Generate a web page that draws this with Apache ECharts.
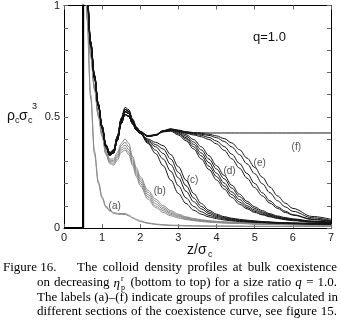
<!DOCTYPE html>
<html><head><meta charset="utf-8">
<script src="https://cdn.jsdelivr.net/npm/echarts@6/dist/echarts.min.js"></script>
<style>html,body{margin:0;padding:0;background:#fff}#c{width:341px;height:321px}</style>
</head><body><div id="c"></div>
<script>
// ---------------- data ----------------
const zGrid = [0.5,0.55,0.6,0.7,0.8,0.9,1.0,1.1,1.2,1.3,1.4,1.5,1.6,1.7,1.8,1.9,2.0,
               2.2,2.4,2.6,2.8,3.0,3.2,3.4,3.6,3.8,4.0,4.2,4.4,4.6,4.8,5.0,5.2,5.4,5.6,5.8,6.0,6.5,7.0];

// near-wall parts (z = 0.5 .. 2.0) of the black profiles
const headF = [2.2,1.4,1.08,0.84,0.69,0.56,0.46,0.375,0.34,0.352,0.415,0.495,0.542,0.532,0.49,0.455,0.435];
const headE = [2.2,1.38,1.07,0.835,0.685,0.557,0.457,0.372,0.336,0.348,0.41,0.488,0.533,0.524,0.484,0.45,0.432];
const headD = [2.2,1.37,1.06,0.83,0.68,0.553,0.453,0.368,0.332,0.343,0.403,0.48,0.523,0.515,0.477,0.446,0.43];
const headC = [2.2,1.35,1.05,0.82,0.675,0.548,0.448,0.363,0.327,0.337,0.395,0.47,0.51,0.502,0.468,0.44,0.425];

// far parts (z = 2.2 .. 7.0)
const tailF  = [0.415,0.42,0.438,0.446,0.44,0.433,0.429,0.428,0.427,0.427,0.427,0.427,0.427,0.427,0.427,0.427,0.427,0.427,0.427,0.427,0.427,0.427];
const tailE4 = [0.413,0.418,0.436,0.444,0.438,0.431,0.427,0.425,0.421,0.414,0.402,0.382,0.352,0.314,0.272,0.228,0.184,0.144,0.112,0.088,0.052,0.039];
const tailE3 = [0.413,0.418,0.436,0.444,0.437,0.43,0.425,0.421,0.416,0.406,0.389,0.364,0.33,0.288,0.244,0.199,0.158,0.122,0.095,0.075,0.046,0.034];
const tailE2 = [0.412,0.417,0.435,0.443,0.436,0.428,0.422,0.416,0.407,0.391,0.366,0.332,0.29,0.245,0.2,0.158,0.122,0.095,0.075,0.06,0.04,0.031];
const tailE1 = [0.412,0.417,0.435,0.442,0.435,0.426,0.418,0.41,0.398,0.378,0.349,0.311,0.269,0.224,0.181,0.144,0.112,0.088,0.07,0.058,0.038,0.029];
const tailD5 = [0.413,0.418,0.436,0.443,0.434,0.42,0.397,0.365,0.325,0.28,0.236,0.192,0.152,0.12,0.095,0.078,0.064,0.054,0.047,0.041,0.031,0.027];
const tailD4 = [0.413,0.418,0.435,0.441,0.431,0.413,0.386,0.351,0.31,0.265,0.221,0.179,0.141,0.111,0.088,0.072,0.06,0.051,0.044,0.039,0.03,0.025];
const tailD3 = [0.412,0.417,0.434,0.44,0.427,0.406,0.376,0.337,0.294,0.246,0.202,0.162,0.128,0.1,0.081,0.067,0.057,0.048,0.042,0.037,0.029,0.024];
const tailD2 = [0.412,0.417,0.433,0.438,0.423,0.4,0.365,0.324,0.278,0.231,0.188,0.15,0.117,0.092,0.075,0.062,0.053,0.045,0.039,0.035,0.027,0.023];
const tailD1 = [0.411,0.416,0.432,0.435,0.418,0.392,0.355,0.31,0.263,0.216,0.175,0.137,0.107,0.086,0.07,0.059,0.05,0.043,0.037,0.033,0.026,0.021];
const tailC5 = [0.40,0.385,0.37,0.33,0.275,0.215,0.155,0.11,0.08,0.062,0.051,0.044,0.039,0.035,0.032,0.029,0.027,0.025,0.024,0.023,0.021,0.02];
const tailC4 = [0.395,0.375,0.355,0.31,0.25,0.19,0.135,0.097,0.072,0.057,0.047,0.041,0.036,0.033,0.03,0.028,0.026,0.024,0.023,0.022,0.02,0.019];
const tailC3 = [0.39,0.365,0.335,0.285,0.225,0.165,0.118,0.086,0.065,0.052,0.044,0.038,0.034,0.031,0.028,0.026,0.025,0.023,0.022,0.021,0.019,0.018];
const tailC2 = [0.385,0.35,0.31,0.255,0.19,0.135,0.097,0.073,0.057,0.047,0.04,0.035,0.031,0.029,0.027,0.025,0.024,0.022,0.021,0.02,0.018,0.017];
const tailC1 = [0.38,0.335,0.28,0.215,0.155,0.11,0.08,0.062,0.05,0.042,0.036,0.032,0.029,0.027,0.025,0.024,0.022,0.021,0.02,0.019,0.017,0.016];

// grey profiles (b), full range
const profB5 = [2.0,1.3,1.0,0.79,0.64,0.52,0.43,0.35,0.31,0.31,0.34,0.38,0.40,0.38,0.32,0.27,0.23,0.17,0.13,0.10,0.078,0.062,0.05,0.043,0.037,0.033,0.03,0.028,0.026,0.024,0.023,0.021,0.02,0.019,0.018,0.017,0.017,0.016,0.015];
const profB4 = [2.0,1.3,1.0,0.785,0.635,0.515,0.425,0.345,0.305,0.302,0.33,0.37,0.385,0.365,0.31,0.26,0.22,0.16,0.12,0.092,0.072,0.058,0.047,0.04,0.035,0.031,0.028,0.026,0.024,0.023,0.022,0.02,0.019,0.018,0.017,0.017,0.016,0.015,0.014];
const profB3 = [2.0,1.3,1.0,0.78,0.63,0.51,0.42,0.34,0.30,0.296,0.322,0.36,0.372,0.352,0.30,0.25,0.21,0.15,0.11,0.085,0.066,0.054,0.044,0.038,0.033,0.03,0.027,0.025,0.023,0.022,0.021,0.019,0.018,0.017,0.017,0.016,0.015,0.014,0.013];
const profB2 = [2.0,1.3,1.0,0.775,0.625,0.505,0.415,0.335,0.295,0.288,0.314,0.35,0.36,0.34,0.29,0.24,0.20,0.14,0.10,0.078,0.061,0.05,0.041,0.036,0.031,0.028,0.026,0.024,0.022,0.021,0.02,0.018,0.017,0.017,0.016,0.015,0.015,0.014,0.013];
const profB1 = [2.0,1.3,1.0,0.77,0.62,0.50,0.41,0.33,0.29,0.282,0.305,0.34,0.35,0.33,0.28,0.23,0.19,0.13,0.092,0.07,0.055,0.045,0.038,0.033,0.029,0.026,0.024,0.022,0.021,0.02,0.019,0.017,0.016,0.016,0.015,0.015,0.014,0.013,0.012];

// grey profiles (a)
const profA2 = [2.0,1.25,0.97,0.6,0.345,0.21,0.14,0.098,0.08,0.07,0.066,0.065,0.065,0.058,0.047,0.039,0.032,0.023,0.018,0.015,0.013,0.012,0.011,0.01,0.01,0.009,0.009,0.009,0.009,0.009,0.008,0.008,0.008,0.008,0.008,0.008,0.008,0.008,0.008];
const profA1 = [2.0,1.22,0.94,0.58,0.33,0.2,0.133,0.093,0.076,0.066,0.062,0.061,0.061,0.054,0.044,0.036,0.029,0.021,0.016,0.013,0.011,0.01,0.009,0.009,0.008,0.008,0.008,0.008,0.007,0.007,0.007,0.007,0.007,0.007,0.007,0.007,0.007,0.007,0.007];

// hard wall
const wallZ = [0, 0.5, 0.5];
const wallRho = [0, 0, 1.2];

// group labels
const groupNames = ['(a)','(b)','(c)','(d)','(e)','(f)'];
const groupZ     = [1.33, 2.51, 3.37, 4.34, 5.13, 6.09];
const groupRho   = [0.097, 0.166, 0.213, 0.254, 0.293, 0.362];

const yTickLabels = {'0':'0','0.5':'0.5','1':'1'};

// ---------------- chart ----------------
const GREY = '#8a8a8a', BLACK = '#161616';
const greyProfiles = [profA1, profA2, profB1, profB2, profB3, profB4, profB5];
const blackProfiles = [
  headC.concat(tailC1), headC.concat(tailC2), headC.concat(tailC3), headC.concat(tailC4), headC.concat(tailC5),
  headD.concat(tailD1), headD.concat(tailD2), headD.concat(tailD3), headD.concat(tailD4), headD.concat(tailD5),
  headE.concat(tailE1), headE.concat(tailE2), headE.concat(tailE3), headE.concat(tailE4),
  headF.concat(tailF)
];
function lineSeries(vals, color){
  return {type:'line', xAxisIndex:0, yAxisIndex:0, data: zGrid.map((z,i)=>[z, vals[i]]),
    showSymbol:false, smooth:0.35, smoothMonotone:'x', silent:true,
    lineStyle:{color:color, width:1}, z:2};
}
const series = [];
greyProfiles.forEach(p=>series.push(lineSeries(p, GREY)));
blackProfiles.forEach(p=>series.push(lineSeries(p, BLACK)));
series.push({type:'line', data: wallZ.map((z,i)=>[z, wallRho[i]]), showSymbol:false, silent:true,
  lineStyle:{color:'#000', width:2.2}, z:5});
series.push({type:'scatter', data: groupZ.map((z,i)=>[z, groupRho[i], groupNames[i]]), symbolSize:0, silent:true,
  label:{show:true, position:'inside', formatter:p=>p.data[2], fontSize:10, color:'#222', fontFamily:'Liberation Sans'}, z:6});

const axCommonX = {type:'value', min:0, max:7, interval:1,
  axisLine:{onZero:false, lineStyle:{color:'#000', width:1}},
  axisTick:{inside:true, length:4, lineStyle:{color:'#666'}},
  splitLine:{show:false}};
const axCommonY = {type:'value', min:0, max:1, interval:0.1,
  axisLine:{onZero:false, lineStyle:{color:'#000', width:1}},
  axisTick:{inside:true, length:4, lineStyle:{color:'#666'}},
  splitLine:{show:false}};

// ---------------- graphic text ----------------
const els = [];
function txt(x,y,text,font,extra){
  const st = Object.assign({text:text, font:font, fill:'#111', textAlign:'left', align:'left',
     textVerticalAlign:'middle', verticalAlign:'middle'}, extra||{});
  els.push({type:'text', x:x, y:y, silent:true, style:st});
}
const SANS = '"Liberation Sans", Arial, sans-serif';
txt(7,116,'ρ','14px '+SANS); txt(15,121,'c','9px '+SANS);
txt(19,116,'σ','14px '+SANS); txt(28,121,'c','9px '+SANS); txt(32,107,'3','9px '+SANS);
txt(187,250,'z/σ','14px '+SANS); txt(208,255,'c','9px '+SANS);
txt(253,37,'q=1.0','13px '+SANS);

const SERIF = '"Liberation Serif", "Times New Roman", serif';
const capFont = '13px '+SERIF;
const ctx = document.createElement('canvas').getContext('2d');
function wWidth(w){ if (typeof w === 'object') return w.w; ctx.font = capFont; return ctx.measureText(w).width; }
function justify(words, x0, x1, y){
  const ws = words.map(wWidth);
  const tot = ws.reduce((a,b)=>a+b,0);
  const gap = (x1-x0-tot)/(words.length-1);
  let x = x0;
  words.forEach((w,i)=>{
    if (typeof w === 'object') { w.parts.forEach(p=>txt(x+p.dx, y+p.dy, p.t, p.f, {fill:'#000'})); }
    else txt(x, y, w, capFont, {fill:'#000'});
    x += ws[i] + gap;
  });
}
const ETA = {w:13, parts:[{t:'η', f:'italic 13px '+SERIF, dx:0, dy:1},{t:'r', f:'8px '+SERIF, dx:7.5, dy:-4},{t:'p', f:'8px '+SERIF, dx:7.5, dy:5}]};
const QI = {w:7, parts:[{t:'q', f:'italic 13px '+SERIF, dx:0, dy:0}]};
const capY = [268, 283, 298, 312];
txt(3, capY[0], 'Figure 16.', capFont, {fill:'#000'});
justify(['The','colloid','density','profiles','at','bulk','coexistence'], 77, 337, capY[0]);
justify(['on','decreasing',ETA,'(bottom','to','top)','for','a','size','ratio',QI,'=','1.0.'], 37, 337, capY[1]);
justify(['The','labels','(a)–(f)','indicate','groups','of','profiles','calculated','in'], 37, 338, capY[2]);
justify(['different','sections','of','the','coexistence','curve,','see','figure','15.'], 37, 337, capY[3]);

const chart = echarts.init(document.getElementById('c'), null, {renderer:'canvas'});
chart.setOption({
  animation:false,
  backgroundColor:'#fff',
  grid:{left:64, right:10, top:4, bottom:93},
  xAxis:[
    Object.assign({position:'bottom', axisLabel:{fontSize:11, color:'#222', margin:4, fontFamily:SANS}}, axCommonX),
    Object.assign({position:'top', axisLabel:{show:false}}, axCommonX)
  ],
  yAxis:[
    Object.assign({position:'left', axisLabel:{fontSize:11, color:'#222', margin:4, fontFamily:SANS,
      formatter:v=>{const k=String(Math.round(v*10)/10); return yTickLabels[k]!==undefined?yTickLabels[k]:'';}}}, axCommonY),
    Object.assign({position:'right', axisLabel:{show:false}}, axCommonY)
  ],
  series: series,
  graphic: els
});
</script>
</body></html>
